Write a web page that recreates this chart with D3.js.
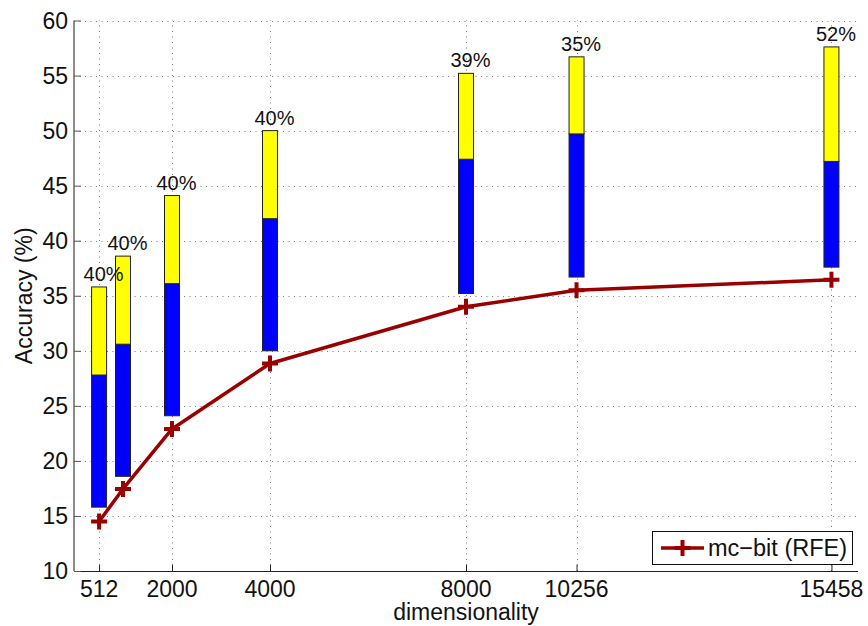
<!DOCTYPE html>
<html>
<head>
<meta charset="utf-8">
<script src="https://cdn.jsdelivr.net/npm/d3@7"></script>
<style>
  html, body { margin: 0; padding: 0; background: #fff; }
  svg { display: block; font-family: "Liberation Sans", Arial, Helvetica, sans-serif; }
</style>
</head>
<body>
<svg id="chart" width="868" height="626"></svg>
<script>
// Dimensionality settings (x positions of each measurement)
const dims = [512, 1000, 2000, 4000, 8000, 10256, 15458];
// mc-bit (RFE) accuracy line
const rfeAcc = [14.5, 17.45, 22.9, 28.85, 34.0, 35.5, 36.45];
// Range bars: bottom and top of each bar (accuracy %)
const barLow = [15.8, 18.6, 24.1, 30.0, 35.2, 36.7, 37.6];
const barHigh = [35.8, 38.6, 44.1, 50.0, 55.2, 56.7, 57.6];
// Share of each bar taken by the yellow (upper) segment, in percent
const upperPct = [40, 40, 40, 40, 39, 35, 52];
// Axis ticks
const xTicks = [512, 2000, 4000, 8000, 10256, 15458];
const yTicks = [10, 15, 20, 25, 30, 35, 40, 45, 50, 55, 60];

const svg = d3.select("#chart");
const plotL = 74, plotR = 858, plotT = 20.5, plotB = 571;

const x = d3.scaleLinear().domain([0, 16000]).range([plotL, plotR]);
const y = d3.scaleLinear().domain([10, 60]).range([plotB, plotT]);

// Dotted grid
const grid = svg.append("g").attr("stroke", "#7a7a7a").attr("stroke-width", 1)
  .attr("stroke-dasharray", "1,4.5");
grid.selectAll("line.h").data(yTicks.filter(d => d > 10)).join("line")
  .attr("x1", plotL).attr("x2", plotR)
  .attr("y1", d => Math.round(y(d)) + 0.5).attr("y2", d => Math.round(y(d)) + 0.5);
grid.selectAll("line.v").data(xTicks).join("line")
  .attr("x1", d => Math.round(x(d)) + 0.5).attr("x2", d => Math.round(x(d)) + 0.5)
  .attr("y1", plotB).attr("y2", plotT);

// Axes (ticks pointing inward)
const xAxis = d3.axisTop(x).tickValues(xTicks).tickSize(7).tickFormat("");
const gx = svg.append("g").attr("transform", `translate(0,${plotB + 0.5})`).call(xAxis);
gx.select(".domain").attr("d", `M${plotL},0H${plotR}`).attr("stroke", "#222");
gx.selectAll(".tick line").attr("stroke", "#222");
svg.append("g").selectAll("text").data(xTicks).join("text")
  .attr("x", d => x(d)).attr("y", 596.5)
  .attr("text-anchor", "middle").attr("font-size", 23).attr("fill", "#111")
  .text(d => d);

const yAxis = d3.axisRight(y).tickValues(yTicks).tickSize(7).tickFormat("");
const gy = svg.append("g").attr("transform", `translate(${plotL},0)`).call(yAxis);
gy.select(".domain").attr("d", `M0,${plotB}V${plotT}`).attr("stroke", "#666").attr("stroke-width", 1.5);
gy.selectAll(".tick line").attr("stroke", "#555");
svg.append("g").selectAll("text").data(yTicks).join("text")
  .attr("x", 68).attr("y", d => y(d) + 8)
  .attr("text-anchor", "end").attr("font-size", 23).attr("fill", "#111")
  .text(d => d);

// Axis titles
svg.append("text").attr("x", x(8000)).attr("y", 620)
  .attr("text-anchor", "middle").attr("font-size", 23).attr("fill", "#111")
  .text("dimensionality");
svg.append("text").attr("transform", `translate(32,${(plotT + plotB) / 2}) rotate(-90)`)
  .attr("text-anchor", "middle").attr("font-size", 23).attr("fill", "#111")
  .text("Accuracy (%)");

// Stacked range bars: blue lower part, yellow upper part
const halfW = 153;
const bars = dims.map((d, i) => {
  const split = barHigh[i] - (barHigh[i] - barLow[i]) * upperPct[i] / 100;
  return { d, low: barLow[i], high: barHigh[i], split, pct: upperPct[i] };
});
const gb = svg.append("g").attr("stroke", "#222").attr("stroke-width", 1);
gb.selectAll("rect.lo").data(bars).join("rect")
  .attr("x", b => x(b.d - halfW)).attr("width", b => x(b.d + halfW) - x(b.d - halfW))
  .attr("y", b => y(b.split)).attr("height", b => y(b.low) - y(b.split))
  .attr("fill", "#0000ff");
gb.selectAll("rect.hi").data(bars).join("rect")
  .attr("x", b => x(b.d - halfW)).attr("width", b => x(b.d + halfW) - x(b.d - halfW))
  .attr("y", b => y(b.high)).attr("height", b => y(b.split) - y(b.high))
  .attr("fill", "#ffff00");
svg.append("g").selectAll("text").data(bars).join("text")
  .attr("x", b => x(b.d) + 4.5).attr("y", b => y(b.high) - 6)
  .attr("text-anchor", "middle").attr("font-size", 20).attr("fill", "#111")
  .text(b => b.pct + "%");

// mc-bit (RFE) line with plus markers
const red = "#990000";
const pts = dims.map((d, i) => [x(d), y(rfeAcc[i])]);
svg.append("path").attr("d", d3.line()(pts))
  .attr("fill", "none").attr("stroke", red).attr("stroke-width", 3.5)
  .attr("stroke-linejoin", "round");
const plus = s => `M${-s},0H${s}M0,${-s}V${s}`;
svg.append("g").selectAll("path").data(pts).join("path")
  .attr("transform", p => `translate(${p[0]},${p[1]})`)
  .attr("d", plus(8)).attr("stroke", red).attr("stroke-width", 4).attr("fill", "none");

// Legend
const lg = svg.append("g");
lg.append("rect").attr("x", 652.5).attr("y", 531.5).attr("width", 200).attr("height", 33)
  .attr("fill", "#fff").attr("stroke", "#111").attr("stroke-width", 1);
lg.append("line").attr("x1", 661).attr("x2", 704).attr("y1", 548).attr("y2", 548)
  .attr("stroke", red).attr("stroke-width", 3.5);
lg.append("path").attr("transform", "translate(682.5,548)").attr("d", plus(8))
  .attr("stroke", red).attr("stroke-width", 4);
lg.append("text").attr("x", 708).attr("y", 556).attr("font-size", 23.5).attr("fill", "#111")
  .text("mc\u2212bit (RFE)");
</script>
</body>
</html>
